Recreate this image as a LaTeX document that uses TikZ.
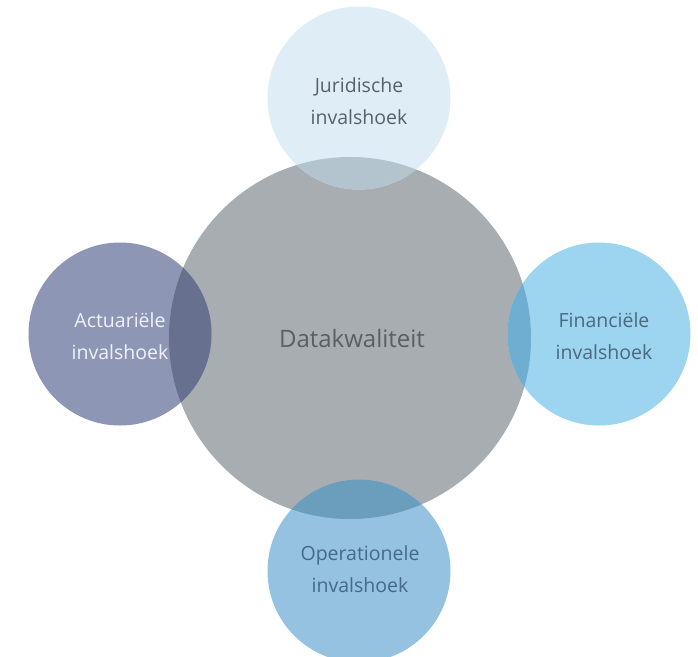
\documentclass[tikz,border=0pt]{standalone}
\usepackage{fontspec}
\setmainfont{Open Sans}
\definecolor{cgray}{HTML}{A8ADB1}
\definecolor{ctop}{HTML}{DFEDF7}
\definecolor{otop}{HTML}{B3C4CF}
\definecolor{cleft}{HTML}{8D96B4}
\definecolor{oleft}{HTML}{67718F}
\definecolor{cright}{HTML}{9DD4EF}
\definecolor{oright}{HTML}{6FAED0}
\definecolor{cbot}{HTML}{94C2E0}
\definecolor{obot}{HTML}{6B9DBD}
\definecolor{ttop}{HTML}{56626B}
\definecolor{tleft}{HTML}{F0F2F8}
\definecolor{tright}{HTML}{4A6A80}
\definecolor{tbot}{HTML}{466A88}
\definecolor{tmid}{HTML}{5A5F64}
\tikzset{
  disc/.style={circle, inner sep=0pt, outer sep=0pt, draw=none},
  big/.style={disc, minimum size=362pt, fill=cgray},
  small/.style={disc, minimum size=183pt},
  lbl/.style={align=center, font=\fontsize{19.5}{32.5}\selectfont},
}
\begin{document}
\begin{tikzpicture}[x=1pt,y=-1pt]
\useasboundingbox (0,0) rectangle (698,656);
\clip (0,0) rectangle (698,656);
\node[big] (dq) at (350,338) {};
\node[small, fill=ctop] (jur) at (359,98) {};
\node[small, fill=cleft] (act) at (120,334) {};
\node[small, fill=cright] (fin) at (599,334) {};
\node[small, fill=cbot] (ops) at (359,571) {};
\begin{scope}
  \clip (350,338) circle[radius=181pt];
  \fill[otop] (359,98) circle[radius=91.5pt];
  \fill[oleft] (120,334) circle[radius=91.5pt];
  \fill[oright] (599,334) circle[radius=91.5pt];
  \fill[obot] (359,571) circle[radius=91.5pt];
\end{scope}
\node[lbl, text=ttop] (tjur) at (359,101) {Juridische\\invalshoek};
\node[lbl, text=tleft] (tact) at (120,336) {Actuariële\\invalshoek};
\node[lbl, text=tright] (tfin) at (604,336) {Financiële\\invalshoek};
\node[lbl, text=tbot] (tops) at (360,569) {Operationele\\invalshoek};
\node[font=\fontsize{24}{28}\selectfont, text=tmid] (tdq) at (352,338) {Datakwaliteit};
\end{tikzpicture}
\end{document}
